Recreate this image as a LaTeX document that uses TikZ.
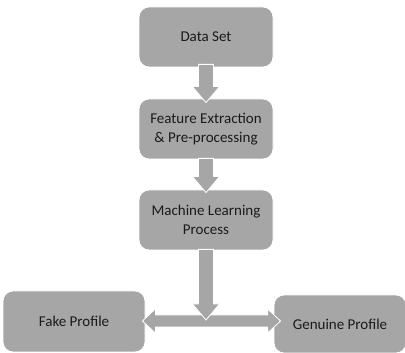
\documentclass[tikz,border=0pt]{standalone}
\usepackage{fontspec}
\setmainfont{Carlito}
\usetikzlibrary{calc}
\definecolor{boxgray}{HTML}{A6A6A6}
\definecolor{txt}{HTML}{1A1A1A}
\tikzset{
  procbox/.style={draw=white, line width=0.8pt, fill=boxgray, rounded corners=10pt,
    align=center, text=txt, font=\fontsize{15}{18.5}\selectfont, inner sep=0pt},
  blockarrow/.style={fill=boxgray, draw=white, line width=0.8pt, line join=miter}
}
\newcommand\downblock[2]{% #1 shaft start, #2 tip
  \draw[blockarrow] ($(#1)+(-7.5,0)$) -- ($(#1)+(7.5,0)$) -- ($(#2)+(7.5,16)$) -- ($(#2)+(13.5,16)$)
    -- (#2) -- ($(#2)+(-13.5,16)$) -- ($(#2)+(-7.5,16)$) -- cycle;}
\begin{document}
\begin{tikzpicture}[x=1pt,y=1pt]
\useasboundingbox (0,0) rectangle (405,353);
\node[procbox, minimum width=134pt, minimum height=60pt] (ds) at (206,316) {Data Set};
\node[procbox, minimum width=134pt, minimum height=60pt] (fe) at (206,224) {Feature Extraction\\\& Pre-processing};
\node[procbox, minimum width=134pt, minimum height=60pt] (ml) at (206,133) {Machine Learning\\Process};
\node[procbox, minimum width=142pt, minimum height=61pt] (fake) at (74,31.5) {Fake Profile};
\node[procbox, minimum width=132pt, minimum height=58pt] (gen) at (340,29) {Genuine Profile};
% connectors
\coordinate (a1s) at ($(ds.south)+(0,3)$);
\coordinate (a1t) at ($(fe.north)+(0,-4)$);
\downblock{a1s}{a1t}
\coordinate (a2s) at ($(fe.south)+(0,1)$);
\coordinate (a2t) at ($(ml.north)+(0,-3)$);
\downblock{a2s}{a2t}
\coordinate (lt) at ($(fake.east)+(-3,0.5)$);
\coordinate (rt) at ($(lt -| gen.west)+(7,0)$);
\draw[blockarrow] (lt) -- ($(lt)+(13,12)$) -- ($(lt)+(13,6)$) -- ($(rt)+(-13,6)$) -- ($(rt)+(-13,12)$)
  -- (rt) -- ($(rt)+(-13,-12)$) -- ($(rt)+(-13,-6)$) -- ($(lt)+(13,-6)$) -- ($(lt)+(13,-12)$) -- cycle;
\coordinate (a3s) at ($(ml.south)+(0,1)$);
\coordinate (a3t) at ($(ml.south |- lt)+(0,1)$);
\downblock{a3s}{a3t}
\end{tikzpicture}
\end{document}
